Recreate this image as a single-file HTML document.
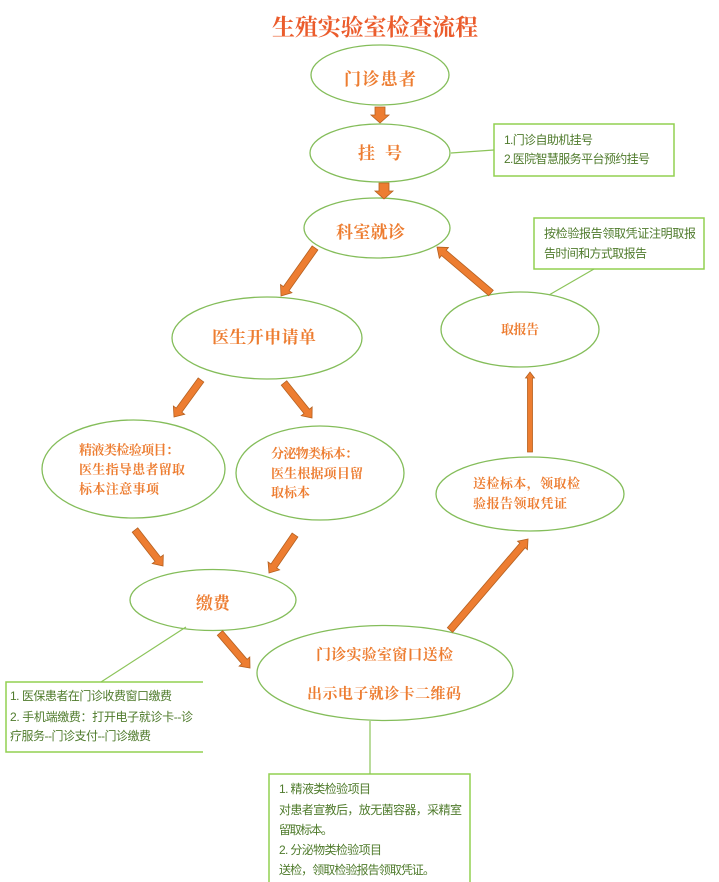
<!DOCTYPE html>
<html><head><meta charset="utf-8">
<style>
html,body{margin:0;padding:0;background:#fff;}
svg{display:block;}
.o{font-family:"Liberation Serif","Noto Serif CJK SC",serif;font-weight:700;fill:#ed7d31;}
.g{font-family:"Liberation Sans","Noto Sans CJK SC",sans-serif;fill:#4f7b2c;font-size:12px;}
.e{fill:none;stroke:#84bd5a;stroke-width:1.3;}
.b{fill:none;stroke:#92d050;stroke-width:1.5;}
.l{stroke:#8cc45a;stroke-width:1.2;fill:none;}
.a{fill:#ed7d31;stroke:#b5601f;stroke-width:0.8;}
</style></head>
<body>
<svg width="719" height="882" viewBox="0 0 719 882" xmlns="http://www.w3.org/2000/svg">
<rect width="719" height="882" fill="#fff"/>
<!-- title -->
<text class="o" x="272" y="35" font-size="23" textLength="206" lengthAdjust="spacing" style="fill:#eb5c2c">生殖实验室检查流程</text>

<!-- ellipses -->
<ellipse class="e" cx="380" cy="75" rx="69" ry="30"/>
<ellipse class="e" cx="380" cy="153" rx="70" ry="29"/>
<ellipse class="e" cx="377" cy="228" rx="73" ry="30"/>
<ellipse class="e" cx="267" cy="338" rx="95" ry="41"/>
<ellipse class="e" cx="133.5" cy="469" rx="91.5" ry="49"/>
<ellipse class="e" cx="320" cy="473" rx="84" ry="47"/>
<ellipse class="e" cx="520" cy="329.5" rx="79" ry="37.5"/>
<ellipse class="e" cx="530" cy="494" rx="94" ry="37"/>
<ellipse class="e" cx="213" cy="600" rx="83" ry="30.5"/>
<ellipse class="e" cx="385" cy="673" rx="128" ry="47.5"/>

<!-- ellipse text -->
<text class="o" x="344" y="85" font-size="17" textLength="72" lengthAdjust="spacing">门诊患者</text>
<text class="o" x="358" y="159" font-size="17">挂</text>
<text class="o" x="385" y="159" font-size="17">号</text>
<text class="o" x="336" y="238" font-size="17" textLength="69" lengthAdjust="spacing">科室就诊</text>
<text class="o" x="212" y="343" font-size="17" textLength="104" lengthAdjust="spacing">医生开申请单</text>

<text class="o" x="79" y="454.5" font-size="13" textLength="100" lengthAdjust="spacing">精液类检验项目：</text>
<text class="o" x="79" y="474" font-size="13" textLength="106" lengthAdjust="spacing">医生指导患者留取</text>
<text class="o" x="79" y="493.5" font-size="13" textLength="80" lengthAdjust="spacing">标本注意事项</text>

<text class="o" x="271" y="458" font-size="13" textLength="87" lengthAdjust="spacing">分泌物类标本：</text>
<text class="o" x="271" y="478" font-size="13" textLength="92" lengthAdjust="spacing">医生根据项目留</text>
<text class="o" x="271" y="497" font-size="13" textLength="39" lengthAdjust="spacing">取标本</text>

<text class="o" x="501" y="334" font-size="13" textLength="38" lengthAdjust="spacing">取报告</text>

<text class="o" x="473" y="488" font-size="13" textLength="107" lengthAdjust="spacing">送检标本，领取检</text>
<text class="o" x="473" y="508" font-size="13" textLength="94" lengthAdjust="spacing">验报告领取凭证</text>

<text class="o" x="196" y="609" font-size="17" textLength="34" lengthAdjust="spacing">缴费</text>

<text class="o" x="316" y="659.5" font-size="15" textLength="137" lengthAdjust="spacing">门诊实验室窗口送检</text>
<text class="o" x="307" y="698.5" font-size="15" textLength="154" lengthAdjust="spacing">出示电子就诊卡二维码</text>

<!-- note boxes -->
<rect class="b" x="494" y="124" width="180" height="52"/>
<line class="l" x1="451" y1="153" x2="494" y2="150"/>
<text class="g" x="504" y="144" textLength="89" lengthAdjust="spacing">1.门诊自助机挂号</text>
<text class="g" x="504" y="163" textLength="146" lengthAdjust="spacing">2.医院智慧服务平台预约挂号</text>

<rect class="b" x="534" y="218" width="170" height="51"/>
<line class="l" x1="549" y1="295" x2="594" y2="269"/>
<text class="g" x="544" y="237.5" textLength="152" lengthAdjust="spacing">按检验报告领取凭证注明取报</text>
<text class="g" x="544" y="257.5" textLength="103" lengthAdjust="spacing">告时间和方式取报告</text>

<path class="b" d="M203,682 H6 V752 H203"/>
<line class="l" x1="186" y1="627" x2="101" y2="682"/>
<text class="g" x="10" y="700" textLength="162" lengthAdjust="spacing">1. 医保患者在门诊收费窗口缴费</text>
<text class="g" x="10" y="721" textLength="183" lengthAdjust="spacing">2. 手机端缴费：打开电子就诊卡--诊</text>
<text class="g" x="10" y="740" textLength="141" lengthAdjust="spacing">疗服务--门诊支付--门诊缴费</text>

<path class="b" d="M269,882 V774 H470 V882"/>
<line class="l" x1="370" y1="721" x2="370" y2="774"/>
<text class="g" x="279" y="793" textLength="92" lengthAdjust="spacing">1. 精液类检验项目</text>
<text class="g" x="279" y="814" textLength="183" lengthAdjust="spacing">对患者宣教后，放无菌容器，采精室</text>
<text class="g" x="279" y="834" textLength="54" lengthAdjust="spacing">留取标本。</text>
<text class="g" x="279" y="854" textLength="103" lengthAdjust="spacing">2. 分泌物类检验项目</text>
<text class="g" x="279" y="874" textLength="156" lengthAdjust="spacing">送检，领取检验报告领取凭证。</text>

<!-- small down arrows -->
<polygon class="a" points="375,107 385,107 385,115 389,115 380,123 371,115 375,115"/>
<polygon class="a" points="379,183 389,183 389,191 393,191 384,199 375,191 379,191"/>

<!-- diagonal block arrows: drawn along +x then rotated -->
<g transform="translate(315,248) rotate(125.3)"><polygon class="a" points="0,-3.5 49.8,-3.5 49.8,-7 58.8,0 49.8,7 49.8,3.5 0,3.5"/></g>
<g transform="translate(491,293) rotate(-139.6)"><polygon class="a" points="0,-3.5 61.9,-3.5 61.9,-7 70.9,0 61.9,7 61.9,3.5 0,3.5"/></g>
<g transform="translate(201,380) rotate(126.1)"><polygon class="a" points="0,-3.5 37.3,-3.5 37.3,-7 45.8,0 37.3,7 37.3,3.5 0,3.5"/></g>
<g transform="translate(284,383) rotate(51.3)"><polygon class="a" points="0,-3.5 36.3,-3.5 36.3,-7 44.8,0 36.3,7 36.3,3.5 0,3.5"/></g>
<g transform="translate(135,530) rotate(52.1)"><polygon class="a" points="0,-3.5 37.1,-3.5 37.1,-7 45.6,0 37.1,7 37.1,3.5 0,3.5"/></g>
<g transform="translate(295,535) rotate(124.4)"><polygon class="a" points="0,-3.5 37.5,-3.5 37.5,-7 46,0 37.5,7 37.5,3.5 0,3.5"/></g>
<g transform="translate(220,633) rotate(49.4)"><polygon class="a" points="0,-3.5 37.6,-3.5 37.6,-7 46.1,0 37.6,7 37.6,3.5 0,3.5"/></g>
<g transform="translate(450,630) rotate(-49.4)"><polygon class="a" points="0,-3.5 111.4,-3.5 111.4,-6.5 119.9,0 111.4,6.5 111.4,3.5 0,3.5"/></g>
<g transform="translate(530,452) rotate(-90)"><polygon class="a" points="0,-2.5 74,-2.5 74,-4.5 80,0 74,4.5 74,2.5 0,2.5"/></g>
</svg>
</body></html>
